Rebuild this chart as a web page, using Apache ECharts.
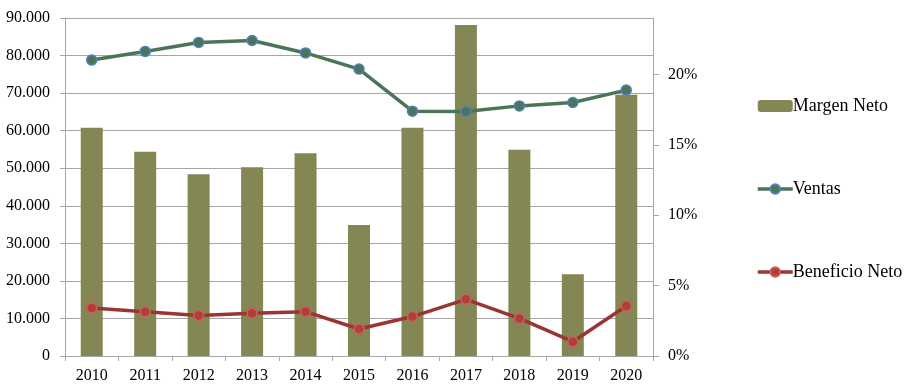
<!DOCTYPE html>
<html>
<head>
<meta charset="utf-8">
<script src="https://cdn.jsdelivr.net/npm/echarts@6/dist/echarts.min.js"></script>
<style>
html,body{margin:0;padding:0;background:#fff;}
#c{width:920px;height:390px;}
</style>
</head>
<body>
<div id="c"></div>
<script>
var years = ['2010','2011','2012','2013','2014','2015','2016','2017','2018','2019','2020'];
var ventas = [78800, 81100, 83500, 84000, 80700, 76400, 65200, 65100, 66600, 67500, 70800];
var beneficio = [12800, 11800, 10800, 11400, 11800, 7200, 10500, 15100, 10000, 3800, 13300];
var margen = [16.2, 14.5, 12.9, 13.4, 14.4, 9.3, 16.2, 23.5, 14.65, 5.8, 18.55];
var rightTicks = [0, 5, 10, 15, 20];

var FONT = 'Liberation Serif';
var grayLine = '#A6A6A6';

function fmtThousands(v){
  return String(v).replace(/\B(?=(\d{3})+(?!\d))/g, '.');
}

var chart = echarts.init(document.getElementById('c'), null, {renderer:'canvas'});
chart.setOption({
  animation: false,
  textStyle: {fontFamily: FONT, color: '#000'},
  grid: {left: 65, right: 267, top: 18, bottom: 34, containLabel: false},
  legend: {
    orient: 'vertical',
    left: 751,
    top: 92,
    itemWidth: 35,
    itemHeight: 12,
    itemGap: 65,
    lineStyle: {width: 3.5},
    textStyle: {fontFamily: FONT, fontSize: 18, color: '#000', padding: [0,0,0,-5]},
    data: ['Margen Neto', 'Ventas', 'Beneficio Neto']
  },
  xAxis: {
    type: 'category',
    data: years,
    boundaryGap: true,
    axisLine: {lineStyle: {color: grayLine, width: 1}},
    axisTick: {show: true, length: 5, lineStyle: {color: grayLine}},
    axisLabel: {fontFamily: FONT, fontSize: 16, color: '#000', margin: 12}
  },
  yAxis: [
    {
      type: 'value',
      min: 0, max: 90000, interval: 10000,
      axisLine: {show: true, lineStyle: {color: grayLine}},
      axisTick: {show: true, length: 5, lineStyle: {color: grayLine}},
      splitLine: {show: true, lineStyle: {color: grayLine, width: 1}},
      axisLabel: {fontFamily: FONT, fontSize: 16, color: '#000', margin: 15,
        formatter: function(v){ return fmtThousands(v); }}
    },
    {
      type: 'value',
      position: 'right',
      min: 0, max: 24, interval: 5,
      axisLine: {show: true, lineStyle: {color: grayLine}},
      axisTick: {show: true, length: 6, lineStyle: {color: grayLine}, customValues: rightTicks},
      splitLine: {show: false},
      axisLabel: {fontFamily: FONT, fontSize: 16, color: '#000', margin: 15,
        customValues: rightTicks,
        formatter: function(v){ return v + '%'; }}
    }
  ],
  series: [
    {
      name: 'Margen Neto',
      type: 'bar',
      yAxisIndex: 1,
      data: margen,
      barWidth: 22,
      itemStyle: {color: '#848654'},
      z: 1
    },
    {
      name: 'Ventas',
      type: 'line',
      yAxisIndex: 0,
      data: ventas,
      symbol: 'circle',
      symbolSize: 10,
      lineStyle: {color: '#4A7558', width: 3.5},
      itemStyle: {color: '#4A7558', borderColor: '#4F81BD', borderWidth: 1.5},
      z: 3
    },
    {
      name: 'Beneficio Neto',
      type: 'line',
      yAxisIndex: 0,
      data: beneficio,
      symbol: 'circle',
      symbolSize: 10,
      lineStyle: {color: '#9B3532', width: 3.5},
      itemStyle: {color: '#B23E3B', borderColor: '#C9605D', borderWidth: 1.5},
      z: 3
    }
  ]
});
</script>
</body>
</html>
